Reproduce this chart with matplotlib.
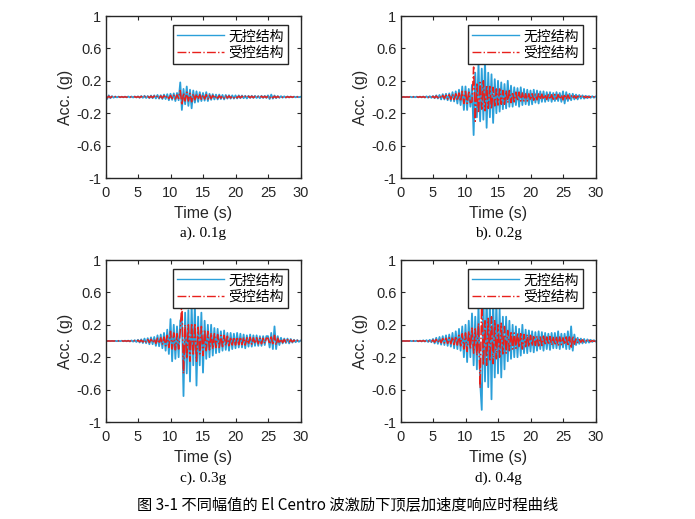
import numpy as np
import matplotlib
matplotlib.use("Agg")
import matplotlib.pyplot as plt

t = np.linspace(0, 30, 121)

unc_01 = [.03, -.025, .02, -.015, .01, -.008, .006, -.005, .005, -.004,
          .004, -.004, .005, -.005, .006, -.005, .006, -.006, .007, -.006,
          .008, -.01, .012, -.01, .015, -.012, .012, -.015, .018, -.015,
          .02, -.018, .025, -.02, .022, -.025, .03, -.025, .035, -.04,
          .04, -.035, .045, -.05, .05, -.04, .18, -.16, .1, -.09,
          .13, -.11, .09, -.14, .08, -.07, .07, -.06, .06, -.05,
          .05, -.045, .06, -.05, .04, -.035, .035, -.03, .03, -.03,
          .03, -.025, .025, -.03, .025, -.02, .022, -.02, .02, -.02,
          .02, -.018, .02, -.015, .018, -.015, .015, -.018, .015, -.012,
          .015, -.012, .014, -.012, .012, -.015, .015, -.012, .014, -.012,
          .02, -.025, .03, -.02, .018, -.015, .012, -.01, .01, -.008,
          .008, -.008, .007, -.006, .006, -.005, .005, -.004, .004, -.003,
          .002]
con_01 = [.015, -.012, .01, -.008, .006, -.005, .004, -.003, .003, -.003,
          .003, -.003, .003, -.003, .004, -.003, .004, -.004, .004, -.004,
          .005, -.006, .007, -.006, .008, -.007, .007, -.008, .01, -.008,
          .012, -.01, .014, -.012, .013, -.014, .016, -.014, .018, -.02,
          .02, -.018, .022, -.025, .025, -.02, .08, -.1, .05, -.05,
          .06, -.05, .045, -.06, .04, -.035, .035, -.03, .03, -.028,
          .028, -.025, .03, -.025, .022, -.02, .02, -.018, .018, -.016,
          .016, -.014, .015, -.016, .014, -.012, .013, -.012, .012, -.011,
          .011, -.01, .011, -.009, .01, -.009, .009, -.01, .009, -.008,
          .009, -.008, .008, -.007, .007, -.009, .009, -.007, .008, -.007,
          .01, -.012, .014, -.01, .009, -.008, .007, -.006, .006, -.005,
          .005, -.005, .004, -.004, .004, -.003, .003, -.003, .002, -.002,
          .001]

unc_02 = [.002, -.002, .002, -.002, .002, -.002, .003, -.003, .003, -.003,
          .004, -.004, .005, -.005, .006, -.007, .008, -.008, .01, -.01,
          .012, -.015, .02, -.018, .025, -.03, .035, -.03, .04, -.04,
          .045, -.05, .06, -.055, .07, -.08, .09, -.1, .13, -.16,
          .13, -.16, .1, -.12, .15, -.47, .3, -.25, .42, -.3,
          .35, -.28, .45, -.38, .3, -.25, .28, -.32, .22, -.2,
          .2, -.18, .18, -.15, .16, -.14, .2, -.12, .14, -.12,
          .12, -.1, .11, -.12, .12, -.1, .1, -.09, .09, -.1,
          .08, -.09, .09, -.07, .08, -.08, .07, -.06, .07, -.06,
          .06, -.05, .06, -.06, .05, -.05, .06, -.05, .05, -.06,
          .07, -.08, .06, -.05, .04, -.04, .04, -.03, .03, -.03,
          .025, -.02, .02, -.02, .015, -.015, .012, -.01, .01, -.008,
          .005]
con_02 = [.001, -.001, .001, -.001, .001, -.001, .002, -.002, .002, -.002,
          .002, -.002, .003, -.003, .004, -.004, .005, -.005, .006, -.006,
          .008, -.01, .012, -.01, .015, -.018, .02, -.018, .022, -.025,
          .028, -.03, .035, -.032, .04, -.045, .05, -.055, .07, -.08,
          .07, -.08, .06, -.07, -.06, .37, -.3, .16, -.2, .18,
          -.15, .2, -.17, .15, -.14, .13, -.15, .12, -.11, .1,
          -.1, .1, -.09, .08, -.09, .08, -.07, .08, -.07, .06,
          -.06, .06, -.05, .06, -.05, .05, -.05, .04, -.05, .04,
          -.04, .04, -.04, .035, -.035, .04, -.03, .035, -.03, .03,
          -.03, .03, -.03, .028, -.028, .03, -.025, .03, -.025, .025,
          -.035, .035, -.03, .025, -.02, .02, -.018, .015, -.015, .012,
          -.012, .01, -.01, .008, -.008, .007, -.006, .005, -.005, .004,
          -.002]

unc_03 = [.001, -.001, .001, -.001, .001, -.001, .001, -.002, .002, -.002,
          .003, -.003, .004, -.004, .005, -.006, .007, -.008, .01, -.012,
          .015, -.018, .02, -.025, .03, -.028, .035, -.04, .045, -.04,
          .05, -.06, .07, -.065, .08, -.09, .1, -.12, .14, -.16,
          .27, -.25, .2, -.22, .18, -.2, .25, .3, -.68, .35,
          -.4, .38, -.5, .45, -.3, .45, -.55, .3, -.3, .35,
          -.39, .25, -.22, .2, -.2, .2, -.18, .16, -.15, .15,
          -.14, .12, -.12, .13, -.11, .1, -.12, .1, -.1, .09,
          -.09, .1, -.08, .09, -.08, .08, -.09, .07, -.07, .08,
          -.07, .07, -.06, .07, -.06, .06, -.06, .06, -.05, .06,
          .06, -.08, .1, -.1, .18, -.1, .06, -.05, .04, -.03,
          .03, -.025, .03, -.03, .025, -.02, .015, -.015, .012, -.01,
          .005]
con_03 = [.0005, -.0005, .0005, -.0005, .0005, -.0005, .0005, -.001, .001, -.001,
          .0015, -.0015, .002, -.002, .003, -.003, .004, -.004, .005, -.006,
          .008, -.009, .01, -.012, .015, -.014, .018, -.02, .022, -.02,
          .025, -.03, .035, -.032, .04, -.045, .05, -.06, .07, -.08,
          .12, -.1, .1, -.11, .09, -.1, .12, .5, -.4, .2,
          -.22, .2, -.25, .22, -.18, .22, -.25, .17, -.16, .18,
          -.18, .14, -.12, .12, -.11, .1, -.1, .09, -.08, .08,
          -.08, .07, -.07, .07, -.06, .06, -.06, .05, -.05, .05,
          -.05, .05, -.045, .05, -.045, .045, -.05, .04, -.04, .045,
          -.04, .04, -.035, .04, -.035, .035, -.035, .035, -.03, .035,
          .035, -.04, .05, -.05, .07, -.05, .035, -.03, .025, -.02,
          .018, -.015, .018, -.018, .015, -.012, .01, -.01, .008, -.006,
          .003]

unc_04 = [.001, -.001, .001, -.001, .001, -.001, .002, -.002, .002, -.002,
          .003, -.004, .005, -.006, .008, -.007, .01, -.012, .015, -.015,
          .025, -.03, .04, -.035, .05, -.045, .06, -.05, .07, -.06,
          .08, -.07, .1, -.09, .12, -.1, .15, -.12, .18, -.2,
          .2, -.26, .25, -.2, .34, -.3, .3, -.35, .45, -.5,
          -.85, .55, -.5, .6, -.57, .5, -.72, .55, -.45, .5,
          -.4, .4, -.45, .3, -.35, .3, -.25, .25, -.22, .2,
          -.2, .18, -.2, .15, -.18, .2, -.15, .14, -.15, .13,
          -.13, .12, -.14, .11, -.12, .12, -.1, .11, -.12, .1,
          -.1, .09, -.11, .1, -.09, .1, -.09, .12, -.1, .09,
          -.08, .09, -.1, .12, -.1, .18, -.12, .08, -.05, .04,
          -.035, .03, -.03, .025, -.025, .02, -.02, .015, -.012, .01,
          -.005]
con_04 = [.0005, -.0005, .0005, -.0005, .0005, -.0005, .001, -.001, .001, -.001,
          .0015, -.002, .0025, -.003, .004, -.0035, .005, -.006, .008, -.008,
          .012, -.015, .02, -.018, .025, -.022, .03, -.025, .035, -.03,
          .04, -.035, .05, -.045, .06, -.05, .07, -.06, .09, -.1,
          .1, -.13, .12, -.1, .16, -.15, .15, -.18, .22, -.58,
          .55, -.3, .25, -.3, .28, -.25, .3, -.28, .25, -.22,
          .2, -.2, .22, -.16, .18, -.15, .13, -.12, .12, -.1,
          .1, -.09, .1, -.08, .09, -.1, .08, -.07, .08, -.07,
          .07, -.06, .07, -.055, .06, -.06, .05, -.055, .06, -.05,
          .05, -.045, .055, -.05, .045, -.05, .045, -.06, .05, -.045,
          .04, -.045, .05, -.06, .05, -.09, .06, -.04, .025, -.02,
          .018, -.015, .015, -.013, .012, -.01, .01, -.008, .006, -.005,
          .003]

panels = [("a). 0.1g", unc_01, con_01), ("b). 0.2g", unc_02, con_02),
          ("c). 0.3g", unc_03, con_03), ("d). 0.4g", unc_04, con_04)]
yticks = [-1, -0.6, -0.2, 0.2, 0.6, 1]
yticklabels = ["-1", "-0.6", "-0.2", "0.2", "0.6", "1"]
xticks = [0, 5, 10, 15, 20, 25, 30]

BLUE = "#2b9fd9"
RED = "#e8201c"
DARK = "#262626"
CJK = ["Noto Sans CJK SC", "DejaVu Sans"]
plt.rcParams["font.family"] = ["Liberation Sans", "DejaVu Sans"]

fig = plt.figure(figsize=(6.95, 5.19), dpi=100)
W, H = 695, 519
lefts = [105.5, 400.5]
bottoms = [178, 422]
aw, ah = 195, 162
sub_y = [233, 478]

for k, (tag, unc, con) in enumerate(panels):
    r, c = divmod(k, 2)
    ax = fig.add_axes([lefts[c] / W, 1 - bottoms[r] / H, aw / W, ah / H])
    ax.plot(t, unc, color=BLUE, lw=1.3, label="无控结构")
    ax.plot(t, con, color=RED, lw=1.1, ls="-.", label="受控结构")
    ax.set_xlim(0, 30)
    ax.set_ylim(-1, 1)
    ax.set_xticks(xticks)
    ax.set_yticks(yticks)
    ax.set_yticklabels(yticklabels)
    ax.tick_params(direction="in", top=True, right=True, length=3, width=0.8,
                   labelsize=10.5, colors=DARK, pad=3)
    ax.tick_params(axis="x", pad=6)
    for s in ax.spines.values():
        s.set_linewidth(1.0)
        s.set_color(DARK)
    ax.set_xlabel("Time (s)", fontsize=11.5, color=DARK, labelpad=4)
    ax.set_ylabel("Acc. (g)", fontsize=11.5, color=DARK, labelpad=2)
    leg = ax.legend(loc="upper right", bbox_to_anchor=(0.936, 0.944), borderaxespad=0,
                    prop={"family": CJK, "size": 10}, fancybox=False, framealpha=1,
                    edgecolor=DARK, handlelength=3.4, handletextpad=0.3,
                    labelspacing=0.2, borderpad=0.3)
    leg.get_frame().set_linewidth(1.0)
    for h in leg.get_lines():
        h.set_linewidth(1.0)
    fig.text((lefts[c] + aw / 2) / W, 1 - sub_y[r] / H, tag, ha="center", va="center",
             fontsize=11, family=["Liberation Serif", "DejaVu Serif"])

fig.text(0.5, 1 - 505 / H, "图 3-1 不同幅值的 El Centro 波激励下顶层加速度响应时程曲线",
         ha="center", va="center", fontsize=11, family=CJK)

fig.savefig("out.png", dpi=100, facecolor="white")
